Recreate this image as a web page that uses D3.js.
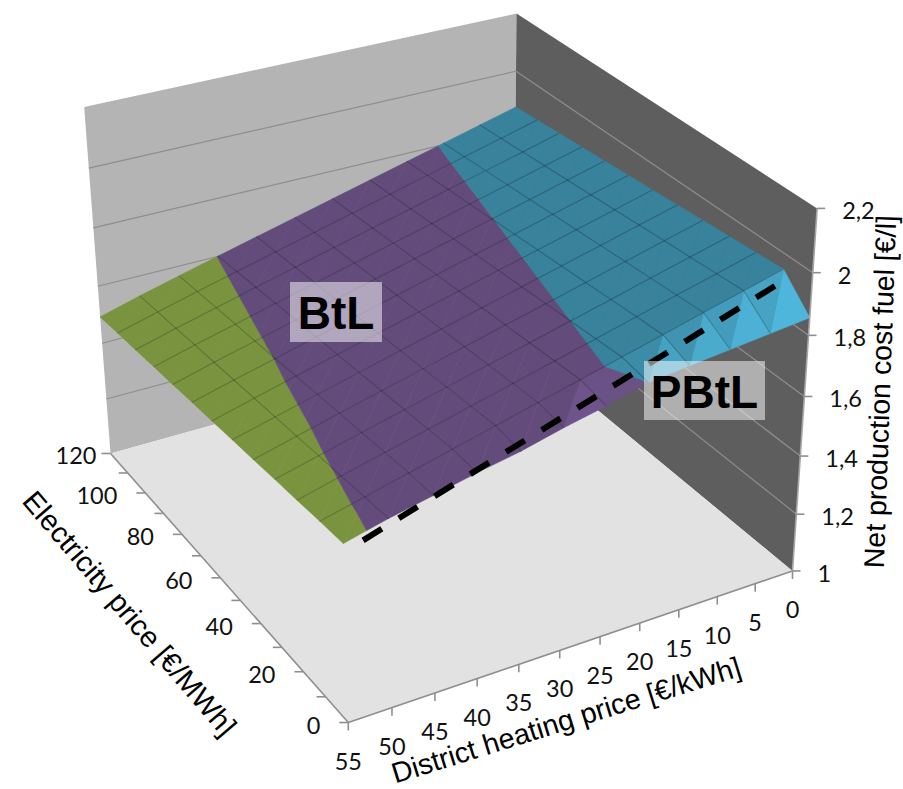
<!DOCTYPE html>
<meta charset="utf-8">
<script src="https://d3js.org/d3.v7.min.js"></script>
<style>
    body { margin: 0; background: #fff; }
    svg { display: block; }
    .tick-label { font-family: Lato, sans-serif; font-size: 23.5px; fill: #111; }
    .axis-title { font-family: "Liberation Sans", Arial, sans-serif; font-size: 29px; fill: #000; }
    .region-label { font-family: "Liberation Sans", Arial, sans-serif; font-size: 46px; font-weight: bold; fill: #000; }
</style>
<svg width="903" height="789"></svg>

<script>
    const heatTicks = [0, 5, 10, 15, 20, 25, 30, 35, 40, 45, 50, 55];
    const elecTicks = [0, 10, 20, 30, 40, 50, 60, 70, 80, 90, 100, 110, 120];
    const elecLabels = [0, 20, 40, 60, 80, 100, 120];
    const costTicks = [1, 1.2, 1.4, 1.6, 1.8, 2, 2.2];

    // net production cost, one row per heating price, one column per electricity price
    const cost = [
        [1.857, 1.950, 1.943, 1.936, 1.929, 1.922, 1.915, 1.908, 1.901, 1.894, 1.887, 1.880, 1.873],
        [1.843, 1.916, 1.909, 1.902, 1.895, 1.888, 1.881, 1.874, 1.867, 1.860, 1.853, 1.846, 1.839],
        [1.829, 1.882, 1.875, 1.868, 1.861, 1.854, 1.847, 1.840, 1.833, 1.826, 1.819, 1.812, 1.805],
        [1.815, 1.848, 1.841, 1.834, 1.827, 1.820, 1.813, 1.806, 1.799, 1.792, 1.785, 1.778, 1.771],
        [1.800, 1.814, 1.807, 1.800, 1.793, 1.786, 1.779, 1.772, 1.765, 1.758, 1.751, 1.744, 1.737],
        [1.765, 1.780, 1.773, 1.766, 1.759, 1.752, 1.745, 1.738, 1.731, 1.724, 1.717, 1.710, 1.703],
        [1.736, 1.746, 1.739, 1.732, 1.725, 1.718, 1.711, 1.704, 1.697, 1.690, 1.683, 1.676, 1.669],
        [1.702, 1.712, 1.705, 1.698, 1.691, 1.684, 1.677, 1.670, 1.663, 1.656, 1.649, 1.642, 1.635],
        [1.676, 1.678, 1.671, 1.664, 1.657, 1.650, 1.643, 1.636, 1.629, 1.622, 1.615, 1.608, 1.601],
        [1.646, 1.644, 1.637, 1.630, 1.623, 1.616, 1.609, 1.601, 1.594, 1.587, 1.580, 1.573, 1.566],
        [1.617, 1.610, 1.603, 1.596, 1.588, 1.581, 1.574, 1.567, 1.560, 1.553, 1.545, 1.538, 1.531],
        [1.582, 1.576, 1.568, 1.561, 1.553, 1.546, 1.538, 1.531, 1.523, 1.516, 1.508, 1.501, 1.493]
    ];

    const bandLimits = [1.2, 1.4, 1.6, 1.8, 2];
    const bandColors = ["#4f81bd", "#c0504d", "#79933f", "#634c7c", "#38829c", "#f79646"];

    // dashed line along the PBtL / BtL ridge
    const ridgeHeat = [1, 53.5];
    const ridgeElec = [10, 2];
    const ridgeCost = [1.903, 1.543];

    const heatScale = d3.scaleLinear().domain([0, 55]).range([0, 1]);
    const elecScale = d3.scaleLinear().domain([0, 120]).range([0, 1]);
    const costScale = d3.scaleLinear().domain([1, 2.2]).range([0, 1]);
    const bandColor = d3.scaleThreshold().domain(bandLimits).range(bandColors);

    // box corners as seen on the page, the camera is fitted to these
    const boxCorners = [
        {box: [1, 0, 0], page: [348, 723]},
        {box: [0, 0, 0], page: [792, 570]},
        {box: [1, 1, 0], page: [110, 453]},
        {box: [0, 1, 0], page: [515, 342]},
        {box: [1, 1, 1], page: [85, 107]},
        {box: [0, 1, 1], page: [515, 13]},
        {box: [0, 0, 1], page: [818, 209]}
    ];

    function fitCamera(corners) {
        const rows = [], rhs = [];
        corners.forEach(({box: [u, v, w], page: [x, y]}) => {
            rows.push([u, v, w, 1, 0, 0, 0, 0, -x * u, -x * v, -x * w]); rhs.push(x);
            rows.push([0, 0, 0, 0, u, v, w, 1, -y * u, -y * v, -y * w]); rhs.push(y);
        });
        // normal equations, then plain gaussian elimination
        const n = 11;
        const m = d3.range(n).map(i => d3.range(n + 1).map(j =>
            d3.sum(rows, (r, k) => r[i] * (j < n ? r[j] : rhs[k]))));
        for (let c = 0; c < n; c++) {
            let p = c;
            for (let r = c + 1; r < n; r++) if (Math.abs(m[r][c]) > Math.abs(m[p][c])) p = r;
            [m[c], m[p]] = [m[p], m[c]];
            for (let r = 0; r < n; r++) {
                if (r === c) continue;
                const f = m[r][c] / m[c][c];
                for (let j = c; j <= n; j++) m[r][j] -= f * m[c][j];
            }
        }
        return m.map((r, i) => r[n] / r[i]);
    }

    const cam = fitCamera(boxCorners);

    function project(heat, elec, z) {
        const u = heatScale(heat), v = elecScale(elec), w = costScale(z);
        const d = cam[8] * u + cam[9] * v + cam[10] * w + 1;
        return [(cam[0] * u + cam[1] * v + cam[2] * w + cam[3]) / d,
                (cam[4] * u + cam[5] * v + cam[6] * w + cam[7]) / d];
    }

    const svg = d3.select("svg");
    const line = d3.line();
    const polygon = pts => line(pts.map(p => project(...p))) + "Z";

    // walls and floor
    const walls = svg.append("g");
    walls.append("path").attr("fill", "#b4b4b4")
        .attr("d", polygon([[55, 120, 1], [0, 120, 1], [0, 120, 2.2], [55, 120, 2.2]]));
    walls.append("path").attr("fill", "#5e5e5e")
        .attr("d", polygon([[0, 120, 1], [0, 0, 1], [0, 0, 2.2], [0, 120, 2.2]]));
    walls.append("path").attr("fill", "#e2e2e2")
        .attr("d", polygon([[55, 0, 1], [0, 0, 1], [0, 120, 1], [55, 120, 1]]));

    const wallLines = costTicks.slice(1, -1);
    walls.selectAll(".wall-left").data(wallLines).join("path")
        .attr("class", "wall-left")
        .attr("stroke", "#8e8e8e").attr("fill", "none").attr("stroke-width", 1.2)
        .attr("d", d => line([project(55, 120, d), project(0, 120, d)]));
    walls.selectAll(".wall-right").data(wallLines).join("path")
        .attr("class", "wall-right")
        .attr("stroke", "#8e8e8e").attr("fill", "none").attr("stroke-width", 1.2)
        .attr("d", d => line([project(0, 120, d), project(0, 0, d)]));

    // cut a triangle into the part that lies between two cost levels
    function clipBelow(poly, level, keepAbove) {
        const out = [];
        poly.forEach((a, i) => {
            const b = poly[(i + 1) % poly.length];
            const aIn = keepAbove ? a[2] >= level : a[2] <= level;
            const bIn = keepAbove ? b[2] >= level : b[2] <= level;
            if (aIn) out.push(a);
            if (aIn !== bIn) {
                const t = (level - a[2]) / (b[2] - a[2]);
                out.push([a[0] + t * (b[0] - a[0]), a[1] + t * (b[1] - a[1]), level]);
            }
        });
        return out;
    }

    // light comes from the front right, so the steep strip at low electricity prices is brighter
    function shade(tri) {
        const [a, b, c] = tri.map(p => [heatScale(p[0]), elecScale(p[1]), costScale(p[2]) * 0.6]);
        const e1 = [b[0] - a[0], b[1] - a[1], b[2] - a[2]];
        const e2 = [c[0] - a[0], c[1] - a[1], c[2] - a[2]];
        let n = [e1[1] * e2[2] - e1[2] * e2[1], e1[2] * e2[0] - e1[0] * e2[2], e1[0] * e2[1] - e1[1] * e2[0]];
        if (n[2] < 0) n = n.map(k => -k);
        // the big flat part stays one colour
        if (n[1] > -0.07 * n[2]) return 1;
        const len = Math.hypot(...n);
        const lit = (-1.2 * n[0] - 0.7 * n[1] + 0.4 * n[2]) / len;
        return 1 + 0.85 * (lit - 0.136);
    }

    const facets = [];
    // far corner first
    d3.range(heatTicks.length - 1).forEach(i => {
        d3.range(elecTicks.length - 2, -1, -1).forEach(j => {
            const node = (a, b) => [heatTicks[a], elecTicks[b], cost[a][b]];
            [[node(i, j), node(i, j + 1), node(i + 1, j)],
             [node(i, j + 1), node(i + 1, j + 1), node(i + 1, j)]].forEach(tri => {
                const k = shade(tri);
                [1].concat(bandLimits).forEach((lo, b, all) => {
                    const hi = b + 1 < all.length ? all[b + 1] : 2.2;
                    const part = clipBelow(clipBelow(tri, lo, true), hi, false);
                    if (part.length < 3) return;
                    const c = d3.rgb(bandColor((lo + hi) / 2));
                    facets.push({part, fill: d3.rgb(c.r * k, c.g * k, c.b * k).formatHex()});
                });
            });
        });
    });

    svg.append("g").selectAll("path").data(facets).join("path")
        .attr("d", d => polygon(d.part))
        .attr("fill", d => d.fill)
        .attr("stroke", d => d.fill)
        .attr("stroke-width", 0.6);

    // mesh lines, the outer rim of the surface has none
    const mesh = svg.append("g").attr("fill", "none").attr("stroke", "#000")
        .attr("stroke-opacity", 0.22).attr("stroke-width", 1.1);
    mesh.selectAll(".along-elec").data(d3.range(1, heatTicks.length - 1)).join("path")
        .attr("class", "along-elec")
        .attr("d", i => line(elecTicks.map((e, j) => project(heatTicks[i], e, cost[i][j]))));
    mesh.selectAll(".along-heat").data(d3.range(1, elecTicks.length - 1)).join("path")
        .attr("class", "along-heat")
        .attr("d", j => line(heatTicks.map((h, i) => project(h, elecTicks[j], cost[i][j]))));

    // axes
    const axisColor = "#8f8f8f";
    const axes = svg.append("g").attr("stroke", axisColor).attr("fill", "none").attr("stroke-width", 1.6);
    axes.append("path").attr("d", line([project(55, 0, 1), project(0, 0, 1)]));
    axes.append("path").attr("d", line([project(55, 0, 1), project(55, 120, 1)]));
    axes.append("path").attr("stroke", "#a6a6a6").attr("d", line([project(0, 0, 1), project(0, 0, 2.2)]));

    axes.selectAll(".tick-heat").data(heatTicks).join("path")
        .attr("class", "tick-heat")
        .attr("d", d => { const [x, y] = project(d, 0, 1); return line([[x, y], [x, y + 8]]); });
    axes.selectAll(".tick-elec").data(elecTicks).join("path")
        .attr("class", "tick-elec")
        .attr("d", d => { const [x, y] = project(55, d, 1); return line([[x, y], [x - 9, y]]); });
    axes.selectAll(".tick-cost").data(costTicks).join("path")
        .attr("class", "tick-cost")
        .attr("d", d => { const [x, y] = project(0, 0, d); return line([[x, y], [x + 8, y]]); });

    svg.append("g").selectAll("text").data(heatTicks).join("text")
        .attr("class", "tick-label").attr("text-anchor", "middle").attr("dominant-baseline", "central")
        .attr("x", d => project(d, 0, 1)[0])
        .attr("y", d => project(d, 0, 1)[1] + 38)
        .text(d => d);

    svg.append("g").selectAll("text").data(elecLabels).join("text")
        .attr("class", "tick-label").attr("text-anchor", "end").attr("dominant-baseline", "central")
        .attr("x", d => project(55, d, 1)[0] - (d === 120 ? 14 : 28))
        .attr("y", d => project(55, d, 1)[1] + 2)
        .text(d => d);

    svg.append("g").selectAll("text").data(costTicks).join("text")
        .attr("class", "tick-label").attr("dominant-baseline", "central")
        .attr("x", d => project(0, 0, d)[0] + 25)
        .attr("y", d => project(0, 0, d)[1] + 2)
        .text(d => String(d).replace(".", ","));

    // axis titles
    const titles = [
        {text: "Net production cost fuel [€/l]", x: 890, y: 392, angle: -88, size: 28.5},
        {text: "Electricity price [€/MWh]", x: 122, y: 620, angle: 49.5, size: 29},
        {text: "District heating price [€/kWh]", x: 569, y: 729.5, angle: -17.3, size: 28.6}
    ];
    svg.append("g").selectAll("text").data(titles).join("text")
        .attr("class", "axis-title").attr("text-anchor", "middle")
        .style("font-size", d => d.size + "px")
        .attr("transform", d => "translate(" + d.x + "," + d.y + ") rotate(" + d.angle + ")")
        .text(d => d.text);

    // dashed ridge on top of the surface
    svg.append("path")
        .attr("fill", "none").attr("stroke", "#000").attr("stroke-width", 6)
        .attr("stroke-dasharray", "22 20")
        .attr("d", line(d3.range(ridgeHeat.length).map(i => project(ridgeHeat[i], ridgeElec[i], ridgeCost[i]))));

    // region labels on pale boxes
    const regions = [
        {text: "BtL", x: 290, y: 282, w: 92, h: 60},
        {text: "PBtL", x: 644, y: 361, w: 121, h: 59}
    ];
    const tags = svg.append("g").selectAll("g").data(regions).join("g");
    tags.append("rect")
        .attr("x", d => d.x).attr("y", d => d.y).attr("width", d => d.w).attr("height", d => d.h)
        .attr("fill", "#fff").attr("fill-opacity", 0.5);
    tags.append("text")
        .attr("class", "region-label").attr("text-anchor", "middle")
        .attr("x", d => d.x + d.w / 2).attr("y", d => d.y + 47)
        .text(d => d.text);
</script>
